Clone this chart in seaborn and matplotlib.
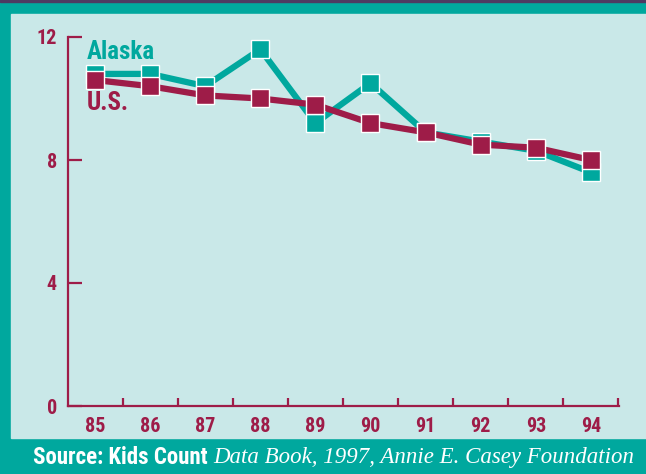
import matplotlib

matplotlib.use("Agg")

import matplotlib.pyplot as plt
import pandas as pd
import seaborn as sns
from matplotlib.patches import Rectangle

years = [85, 86, 87, 88, 89, 90, 91, 92, 93, 94]
alaska = [10.8, 10.8, 10.4, 11.6, 9.2, 10.5, 8.9, 8.6, 8.3, 7.6]
us = [10.6, 10.4, 10.1, 10.0, 9.8, 9.2, 8.9, 8.5, 8.4, 8.0]
y_ticks = [0, 4, 8, 12]

TEAL = "#00a89e"
MAROON = "#9e1c48"
PANEL = "#c9e8e8"

sns.set_style("white")
plt.rcParams["font.family"] = ["Liberation Sans Narrow", "Roboto Condensed",
                               "DejaVu Sans Condensed", "DejaVu Sans"]

W, H = 646, 474
fig = plt.figure(figsize=(W / 100, H / 100), dpi=100, facecolor=TEAL)

# light panel and the thin dark top rule
fig.patches.append(Rectangle((11 / W, 36 / H), 1 - 11 / W, (438 - 14) / H,
                             transform=fig.transFigure, color=PANEL, zorder=-5))
fig.patches.append(Rectangle((0, 1 - 2 / H), 1, 2 / H,
                             transform=fig.transFigure, color="#4d3a62", zorder=-5))

ax = fig.add_axes([68 / W, 68 / H, (619 - 68) / W, (406 - 37) / H])
ax.set_facecolor("none")

df = pd.DataFrame({"year": years * 2,
                   "value": alaska + us,
                   "area": ["Alaska"] * len(years) + ["U.S."] * len(years)})

for name, color in [("Alaska", TEAL), ("U.S.", MAROON)]:
    sns.lineplot(data=df[df["area"] == name], x="year", y="value", ax=ax,
                 color=color, linewidth=4.5, marker="s", markersize=12.5,
                 markeredgecolor="white", markeredgewidth=1.0, clip_on=False)

ax.set_xlim(84.51, 94.51)
ax.set_ylim(0, 12)
ax.set_xlabel("")
ax.set_ylabel("")

for side in ["top", "right"]:
    ax.spines[side].set_visible(False)
for side in ["left", "bottom"]:
    ax.spines[side].set_color(MAROON)
    ax.spines[side].set_linewidth(1.6)

ax.set_yticks(y_ticks)
ax.set_yticklabels([str(t) for t in y_ticks])
ax.tick_params(axis="y", direction="in", length=10, width=1.6, color=MAROON,
               labelcolor=MAROON, labelsize=14.5, pad=8, left=True)
ax.set_xticks(years)
ax.set_xticklabels([str(y) for y in years])
ax.set_xticks([y + 0.5 for y in years], minor=True)
ax.tick_params(axis="x", which="major", length=0, labelcolor=MAROON,
               labelsize=14.5, pad=8)
ax.tick_params(axis="x", which="minor", direction="in", length=6, width=1.6,
               color=MAROON, bottom=True)
for lbl in ax.get_xticklabels() + ax.get_yticklabels():
    lbl.set_fontweight("bold")

fig.text(87 / W, 1 - 52 / H, "Alaska", color=TEAL, fontsize=18,
         fontweight="bold", va="center", ha="left")
fig.text(87 / W, 1 - 103 / H, "U.S.", color=MAROON, fontsize=18,
         fontweight="bold", va="center", ha="left")

# footer source line: bold sans part followed by italic serif part
fig.canvas.draw()
src = fig.text(33 / W, 16 / H, "Source: Kids Count ", color="white",
               fontsize=16.5, fontweight="bold", va="center", ha="left")
bb = src.get_window_extent(renderer=fig.canvas.get_renderer())
fig.text(bb.x1 / W, 16 / H, "Data Book, 1997, Annie E. Casey Foundation",
         color="white", fontsize=16.5, fontstyle="italic",
         family=["Liberation Serif", "DejaVu Serif"], va="center", ha="left")

fig.savefig("out.png", dpi=100, facecolor=TEAL)
